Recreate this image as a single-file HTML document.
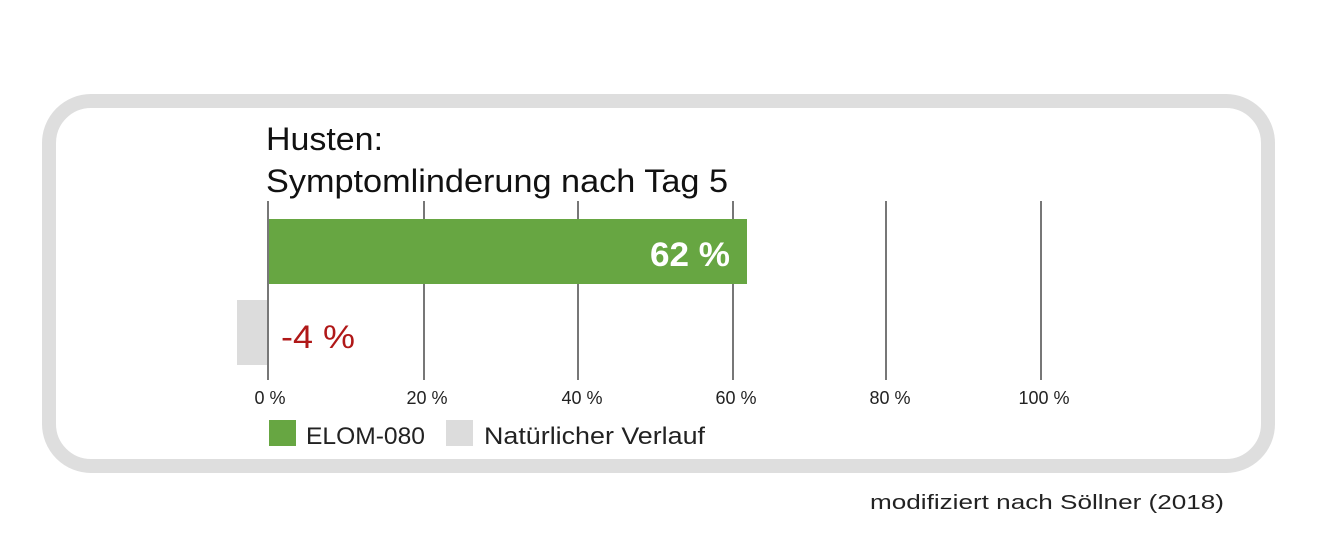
<!DOCTYPE html>
<html><head><meta charset="utf-8"><style>
body{margin:0;width:1324px;height:538px;background:#fff;overflow:hidden;font-family:"Liberation Sans","DejaVu Sans",sans-serif}
</style></head><body>
<svg width="1324" height="538" xmlns="http://www.w3.org/2000/svg" style="position:absolute;left:0;top:0">
<rect x="49" y="101" width="1219" height="365" rx="42" fill="none" stroke="#dedede" stroke-width="14"/>
<text x="266" y="150" font-size="32" fill="#111" textLength="117" lengthAdjust="spacingAndGlyphs">Husten:</text>
<text x="266" y="192" font-size="32" fill="#111" textLength="462" lengthAdjust="spacingAndGlyphs">Symptomlinderung nach Tag 5</text>
<g stroke="#777" stroke-width="2">
<line x1="268" y1="201" x2="268" y2="380"/>
<line x1="424" y1="201" x2="424" y2="380"/>
<line x1="578" y1="201" x2="578" y2="380"/>
<line x1="733" y1="201" x2="733" y2="380"/>
<line x1="886" y1="201" x2="886" y2="380"/>
<line x1="1041" y1="201" x2="1041" y2="380"/>
</g>
<rect x="269" y="219" width="478" height="65" fill="#67a642"/>
<text x="650" y="266" font-size="34" font-weight="bold" fill="#fff" textLength="80" lengthAdjust="spacingAndGlyphs">62 %</text>
<rect x="237" y="300" width="30" height="65" fill="#dcdcdc"/>
<text x="281" y="348" font-size="32" fill="#b01818" textLength="74" lengthAdjust="spacingAndGlyphs">-4 %</text>
<g font-size="18" fill="#222" text-anchor="middle">
<text x="270" y="404">0 %</text>
<text x="427" y="404">20 %</text>
<text x="582" y="404">40 %</text>
<text x="736" y="404">60 %</text>
<text x="890" y="404">80 %</text>
<text x="1044" y="404">100 %</text>
</g>
<rect x="269" y="420" width="27" height="26" fill="#67a642"/>
<text x="306" y="444" font-size="24" fill="#222" textLength="119" lengthAdjust="spacingAndGlyphs">ELOM-080</text>
<rect x="446" y="420" width="27" height="26" fill="#dcdcdc"/>
<text x="484" y="444" font-size="24" fill="#222" textLength="221" lengthAdjust="spacingAndGlyphs">Natürlicher Verlauf</text>
<text x="870" y="509" font-size="20" fill="#222" textLength="354" lengthAdjust="spacingAndGlyphs">modifiziert nach Söllner (2018)</text>
</svg>
</body></html>
